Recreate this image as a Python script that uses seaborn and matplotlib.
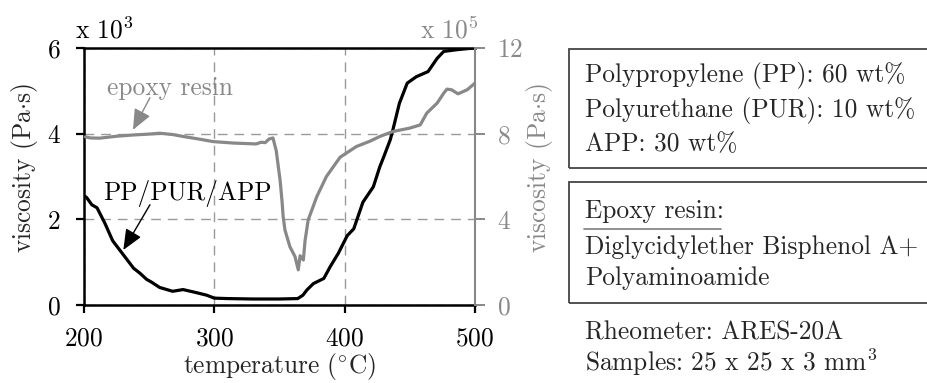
import matplotlib
matplotlib.use("Agg")
import matplotlib.pyplot as plt
import seaborn as sns
import pandas as pd
from matplotlib.patches import Rectangle
from matplotlib.lines import Line2D

# ---- data ----
temp_pp = [200, 202, 206, 210, 216, 222, 230, 238, 243, 248, 252, 258, 268, 276, 286, 294, 300,
           310, 330, 350, 364, 368, 371, 376, 384, 389, 395, 399, 402, 407, 414, 422, 427,
           430, 435, 437, 442, 448, 455, 464, 471, 476, 486, 499]
visc_pp = [2.55, 2.51, 2.34, 2.27, 1.91, 1.50, 1.18, 0.86, 0.74, 0.60, 0.53, 0.41, 0.32, 0.36, 0.29,
           0.23, 0.16, 0.15, 0.14, 0.14, 0.15, 0.23, 0.35, 0.50, 0.62, 0.90, 1.20, 1.44, 1.62,
           1.78, 2.40, 2.76, 3.23, 3.46, 3.86, 4.09, 4.71, 5.18, 5.33, 5.45, 5.76, 5.92, 5.96, 6.00]

temp_ep = [201, 205, 212, 225, 238, 250, 258, 268, 276, 288, 299, 315, 332, 336, 339, 342, 345,
           347.5, 349, 350.5, 352, 352.8, 354.2, 358, 361.9, 364.4, 365.8, 368.3, 369.6, 372,
           378.6, 386, 396.5, 409, 419.5, 427, 437, 450, 458, 463, 471, 476, 478.5, 482, 487,
           494, 500]
visc_ep = [7.85, 7.80, 7.79, 7.88, 7.94, 7.98, 8.02, 7.96, 7.87, 7.75, 7.63, 7.56, 7.52, 7.60,
           7.58, 7.75, 7.80, 7.20, 6.50, 5.80, 4.80, 4.13, 3.50, 2.72, 2.26, 1.64, 2.30, 2.10,
           3.00, 3.97, 5.06, 6.00, 6.90, 7.40, 7.65, 7.87, 8.10, 8.26, 8.41, 8.96, 9.43, 9.89,
           10.08, 10.05, 9.86, 10.05, 10.36]

x_ticks = [200, 300, 400, 500]
y_left_ticks = [0, 2, 4, 6]
y_right_ticks = [0, 4, 8, 12]

info_box1 = ["Polypropylene (PP): 60 wt%", "Polyurethane (PUR): 10 wt%", "APP: 30 wt%"]
info_box2 = ["Epoxy resin:", "Diglycidylether Bisphenol A+", "Polyaminoamide"]
info_free = ["Rheometer: ARES-20A", r"Samples: 25 x 25 x 3 mm$^3$"]

# ---- style ----
sns.set_style("ticks")
plt.rcParams["font.family"] = ["cmr10"]
plt.rcParams["mathtext.fontset"] = "cm"
plt.rcParams["axes.formatter.use_mathtext"] = True
plt.rcParams["axes.unicode_minus"] = False

FS = 18.3
GRAY = "#888888"
W, H = 928, 383

fig = plt.figure(figsize=(W / 100, H / 100), dpi=100)
L, R, T, B = 84, 475, 48, 305
ax = fig.add_axes([L / W, 1 - B / H, (R - L) / W, (B - T) / H])
ax2 = ax.twinx()

df_pp = pd.DataFrame({"temperature": temp_pp, "viscosity": visc_pp})
df_ep = pd.DataFrame({"temperature": temp_ep, "viscosity": visc_ep})

sns.lineplot(data=df_pp, x="temperature", y="viscosity", ax=ax, color="black", lw=2.3,
             sort=False, estimator=None, zorder=3)
sns.lineplot(data=df_ep, x="temperature", y="viscosity", ax=ax2, color=GRAY, lw=2.3,
             sort=False, estimator=None, zorder=3)

ax.set_xlim(200, 500)
ax.set_ylim(0, 6)
ax2.set_ylim(0, 12)
ax.set_xticks(x_ticks)
ax.set_yticks(y_left_ticks)
ax2.set_yticks(y_right_ticks)

# grid
ax.grid(True, color="#9a9a9a", lw=1.0, ls=(0, (7, 5)))
ax2.grid(False)

# spines
for s in ["left", "bottom", "top"]:
    ax.spines[s].set_color("black")
    ax.spines[s].set_linewidth(1.8)
ax.spines["right"].set_visible(False)
for s in ["left", "bottom", "top"]:
    ax2.spines[s].set_visible(False)
ax2.spines["right"].set_color(GRAY)
ax2.spines["right"].set_linewidth(1.5)

ax.tick_params(axis="both", direction="out", length=6, width=1.6, colors="black",
               labelsize=FS)
ax.tick_params(axis="y", pad=11)
ax.tick_params(axis="x", pad=10)
ax2.tick_params(axis="y", direction="out", length=7, width=1.4, colors=GRAY,
                labelsize=FS, pad=9)

ax.set_xlabel(r"temperature ($^{\circ}$C)", fontsize=FS)
ax.set_ylabel(r"viscosity (Pa$\cdot$s)", fontsize=FS)
ax2.set_ylabel(r"viscosity (Pa$\cdot$s)", fontsize=FS, color=GRAY)
ax.xaxis.set_label_coords(0.5, -(367 - B) / (B - T))
ax.xaxis.label.set_va("center")
ax.yaxis.set_label_coords((25 - L) / (R - L), (B - 168) / (B - T))
ax.yaxis.label.set_va("center")
ax2.yaxis.set_label_coords((540 - L) / (R - L), (B - 168) / (B - T))
ax2.yaxis.label.set_va("center")

# multiplier labels
fig.text(75 / W, 1 - 30 / H, r"x $10^3$", fontsize=FS, ha="left", va="center", color="black")
fig.text(478 / W, 1 - 30 / H, r"x $10^5$", fontsize=FS, ha="right", va="center", color=GRAY)

# annotations
ax.text(266, 4.91, "epoxy resin", fontsize=FS, color=GRAY, ha="center", va="baseline")
ax.annotate("", xy=(237.6, 4.09), xytext=(250.6, 4.84),
            arrowprops=dict(arrowstyle="-|>,head_length=0.7,head_width=0.3", color=GRAY,
                            lw=1.0, shrinkA=0, shrinkB=0, mutation_scale=18))
ax.text(279.5, 2.45, "PP/PUR/APP", fontsize=FS, color="black", ha="center", va="baseline")
ax.annotate("", xy=(230.2, 1.285), xytext=(250.6, 2.34),
            arrowprops=dict(arrowstyle="-|>,head_length=0.7,head_width=0.3", color="black",
                            lw=1.0, shrinkA=0, shrinkB=0, mutation_scale=18))

# info boxes on the right
def fy(py):
    return 1 - py / H

box_x = 569 / W
fig.patches.append(Rectangle((box_x, fy(168)), 0.5, (168 - 49) / H, transform=fig.transFigure,
                             fill=False, edgecolor="#444444", lw=1.3))
fig.patches.append(Rectangle((box_x, fy(303)), 0.5, (303 - 182) / H, transform=fig.transFigure,
                             fill=False, edgecolor="#444444", lw=1.3))
tx = 585 / W
for txt, base in zip(info_box1, [81.7, 116.7, 151.2]):
    fig.text(tx, fy(base), txt, fontsize=FS, ha="left", va="baseline")
for txt, base in zip(info_box2, [218.0, 254.0, 285.5]):
    fig.text(tx, fy(base), txt, fontsize=FS, ha="left", va="baseline")
for txt, base in zip(info_free, [340, 371.5]):
    fig.text(tx, fy(base), txt, fontsize=FS, ha="left", va="baseline")
fig.lines.append(Line2D([584 / W, 721 / W], [fy(228.5), fy(228.5)], transform=fig.transFigure,
                        color=GRAY, lw=1.3))

fig.savefig("out.png", dpi=100)
